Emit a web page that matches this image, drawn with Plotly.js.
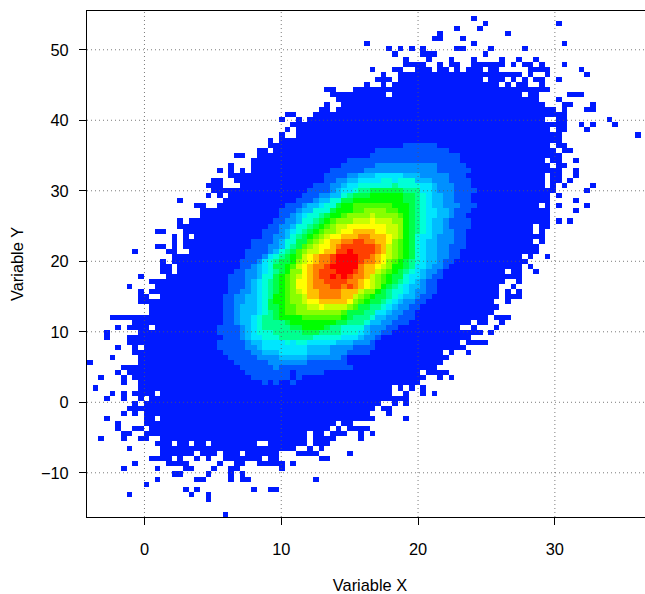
<!DOCTYPE html>
<html><head><meta charset="utf-8">
<script src="https://cdn.plot.ly/plotly-3.0.1.min.js"></script>
<style>html,body{margin:0;padding:0;background:#fff;overflow:hidden;width:645px;height:594px}</style>
</head><body><div id="chart" style="width:653px;height:594px"></div>
<script>
const xTitle = "Variable X", yTitle = "Variable Y";
const xTicks = [0,10,20,30];
const yTicks = [-10,0,10,20,30,40,50];
const xStart = -4.2, binW = 0.413, yTop = 55.5, binH = 0.7177, nCols = 100;
const palette = ["#001aff","#0058ff","#0090ff","#00bcff","#00e6ff","#00ffd8","#00ff90","#00ff48","#00ff00","#48ff00","#88ff00","#c8ff00","#ffff00","#ffc000","#ff8000","#ff4000","#ff0000"];

// Occupied cells per image row (top to bottom): column or column range
const occupied = ["","68","70 83","65 69","62 74","61-62 66","49 68 84","53 55 57 59 65-66 71 77","54 59-61 70","56 60 64 68 73 76 79",
"56-59 62 64-65 68-73 75 77-78 80 84","50 54-55 58-60 62-63 65 67-69 71-72 78-81 87","52 55-76 78 81 88","51-53 55-69 71-73 75 77 79-80 83","49 52 54-72 74 76-77 80","42-43 47-81","43-52 54-76 78-79 85-87","44-79 83","42 45-80 84-85 89","41-42 44-82 84 88-89",
"35-36 40-84","34 37 39-80 83-84 92","36-84 87 89 93","35 37-81 83-84 88","34 37-83 97","32 34-83","32-81 83-84","30-31 33-82 84-85","26-27 30-83","29-80 82-83 86",
"25 29-81 83-84","23 25 27 29-83 86","25-80 82-83 86","22-23 26-80 82-83 85","21-23 27-80 82 84 89","22-82 88","21 23 25-81 83","16 24-81 86","19-20 23-79 81 83 88","20-81 86",
"20-81","16 18-81 83 85","16-78 80-81","12-13 17-78 80","15 17 19-80","15 17-78 80","12-13 15 17-79","8 14-15 18-79","15-76 78 81","13 15-77",
"13-14 16-76 78","13-14 16-73 75-76 79","9 14-76","11-73 76","7 12-72 75","9 11-72 74 76","9-10 13-72 74-76","9-71 74","11-72","11-71",
"4-70 72-74","8-67 69-70 73","5 7-10 12-65 68 72","3 9-69 71","3 7-67","7-65 67-70","5 8 10-66","8-62 64 67","4 9-63","0 9-62",
"6-61","5 7-58 60-63","2 6 8-59 62 64","6 9-58","1 9-53 55 57 59","4 6 8-11 13-53 56 59 61","3 6 9 11-56","8 10-51 54 56","7-50 52-53","6 8 10-49 53",
"3 10-11 13-50 56","5 10-43 45-46","5 8-9 11-42 44 46-49","6-7 10-38 40-41 43-45 48 50","2 6 9-10 13-38 40-43 48","12-14 16-17 19-20 22-29 32-38 40-42","7 13-36 39 41","13-18 20-22 24-26 28-33 37-40 46","11-14 16 19 21 24-30 32-33 41-42","8 14-17 23 26-27 30-34 36",
"6 12 17-18 22 25-26 34","15-16 21 25 27","12 19-20 25 27-28 40","10","17 19 29 32-33","7 18 21","21","","","24"];

// Density levels: "row:left-right" extents of each level
const level1 = "26:56-61 27:51-63 28:50-65 29:46-65 30:45-66 31:43-67 32:42-66 33:42-67 34:40-67 35:39-68 36:38-67 37:37-67 38:35-68 39:34-67 40:34-66 41:33-67 42:32-67 43:31-66 44:31-66 45:29-66 46:29-66 47:28-65 48:28-65 49:27-64 50:27-63 51:26-62 52:25-62 53:25-61 54:25-61 55:25-61 56:24-60 57:24-59 58:24-58 59:24-57 60:24-57 61:24-56 62:23-54 63:23-53 64:24-51 65:23-50 66:23-50 67:24-49 68:25-45 69:26-45 70:27-46 71:28-35 71:37-41 72:29-35 72:37-37 73:31-31 73:33-33 73:36-36";
const level2 = "30:51-61 31:49-61 32:46-63 33:44-63 34:43-64 35:43-64 36:41-64 37:40-64 38:38-65 39:37-64 40:36-64 41:35-63 42:34-63 43:34-64 44:33-64 45:33-64 46:32-63 47:32-63 48:31-63 49:30-62 50:29-62 51:28-61 52:28-60 53:28-59 54:28-59 55:27-59 56:26-58 57:26-57 58:26-56 59:26-55 60:26-54 61:26-53 62:27-52 63:27-51 64:27-50 65:28-49 66:28-46 67:29-45 68:30-44 69:32-38 70:33-33";
const level3 = "32:48-58 33:46-60 34:45-61 35:44-61 36:43-62 37:41-62 38:39-62 39:38-63 40:37-63 41:37-62 42:36-62 43:35-62 44:35-61 45:34-61 46:34-61 47:33-61 48:32-61 49:31-61 50:30-60 51:30-59 52:30-59 53:29-58 54:29-58 55:29-57 56:28-57 57:28-55 58:27-54 59:27-53 60:27-52 61:27-51 62:28-49 63:28-49 64:28-48 65:29-46 66:30-42 67:31-42 68:34-38";
const level4 = "32:51-55 33:48-57 34:46-60 35:45-60 36:45-60 37:43-60 38:41-60 39:40-61 40:38-61 41:38-60 42:37-60 43:36-60 44:36-60 45:35-59 46:35-59 47:34-59 48:32-59 49:31-59 50:31-59 51:31-58 52:31-58 53:30-57 54:30-56 55:30-56 56:30-55 57:30-54 58:30-53 59:30-52 60:29-50 61:29-49 62:29-48 63:29-48 64:29-47 65:31-43 66:31-38 67:34-38";
const level5 = "33:52-53 33:55-57 34:48-58 35:47-58 36:45-59 37:43-59 38:42-59 39:40-59 40:39-59 41:38-59 42:37-59 43:37-59 44:36-58 45:35-58 46:35-58 47:34-58 48:33-58 49:32-58 50:32-57 51:32-57 52:31-56 53:31-56 54:31-55 55:31-55 56:31-54 57:31-53 58:31-52 59:31-50 60:30-50 61:30-49 62:30-48 63:30-47 64:31-44 65:35-35 65:37-38";
const level6 = "34:54-54 35:48-58 36:46-58 37:45-58 38:44-58 39:43-58 40:41-58 41:40-58 42:39-58 43:38-58 44:37-57 45:37-57 46:36-57 47:35-57 48:34-57 49:33-57 50:33-57 51:33-56 52:33-55 53:32-55 54:32-54 55:32-53 56:32-53 57:32-52 58:32-51 59:32-50 60:31-49 61:31-48 62:31-44 63:33-44 64:34-39";
const level7 = "35:50-55 36:47-57 37:45-57 38:44-57 39:43-57 40:42-57 41:41-57 42:40-57 43:39-57 44:38-57 45:37-57 46:37-57 47:36-57 48:35-57 49:34-56 50:33-56 51:34-55 52:33-55 53:33-54 54:33-53 55:33-52 56:33-52 57:32-51 58:32-49 59:33-48 60:33-46 61:35-45 62:36-42 63:38-40";
const level8 = "36:50-55 37:47-55 38:45-56 39:44-56 40:43-56 41:42-56 42:41-56 43:40-56 44:39-56 45:39-56 46:38-56 47:37-56 48:36-56 49:36-55 50:35-55 51:35-54 52:34-53 53:34-53 54:34-52 55:34-51 56:33-50 57:33-49 58:34-47 59:34-45 60:34-45 61:36-43 62:38-41";
const level9 = "38:47-53 39:47-54 40:45-55 41:43-55 42:42-55 43:41-55 44:40-55 45:39-55 46:38-55 47:37-55 48:37-55 49:37-54 50:36-53 51:36-53 52:35-52 53:35-52 54:35-51 55:35-50 56:35-49 57:35-48 58:35-47 59:35-45 60:38-44";
const level10 = "39:49-52 40:46-54 41:44-55 42:43-55 43:42-55 44:41-55 45:40-54 46:39-54 47:38-54 48:38-54 49:37-53 50:37-53 51:36-52 52:36-51 53:36-51 54:36-51 55:36-50 56:36-48 57:36-47 58:37-46 59:37-44";
const level11 = "40:50-50 41:47-53 42:44-54 43:44-54 44:42-54 45:41-53 46:40-53 47:39-53 48:38-53 49:38-52 50:37-52 51:38-51 52:37-50 53:37-50 54:37-50 55:37-48 56:38-47 57:38-46 58:39-45";
const level12 = "41:50-50 42:46-52 43:45-52 44:43-53 45:42-53 46:41-52 47:41-52 48:39-52 49:39-52 50:38-51 51:38-50 52:38-49 53:37-49 54:37-49 55:38-47 56:39-46 57:39-46 58:41-41";
const level13 = "43:47-50 44:45-52 45:43-52 46:43-52 47:42-52 48:40-51 49:40-51 50:39-50 51:39-50 52:39-49 53:39-48 54:39-48 55:39-47 56:39-46 57:41-45";
const level14 = "44:48-49 45:45-50 46:44-51 47:44-51 48:41-50 49:41-50 50:40-48 51:40-48 52:40-48 53:40-47 54:40-47 55:41-44 56:41-44";
const level15 = "45:47-48 46:45-50 47:44-50 48:43-49 49:43-48 50:42-47 51:41-47 52:41-46 53:42-45 54:43-44 54:46-46";
const level16 = "47:46-46 48:44-47 49:44-47 50:43-47 51:44-46 52:43-43 52:45-45";
const levels = [level1,level2,level3,level4,level5,level6,level7,level8,level9,level10,level11,level12,level13,level14,level15,level16];

const z = occupied.map(s => {
  const row = new Array(nCols).fill(null);
  s.split(" ").filter(Boolean).forEach(t => {
    const [a,b] = t.split("-").map(Number);
    for (let c = a; c <= (b === undefined ? a : b) && c < nCols; c++) row[c] = 0;
  });
  return row;
});
levels.forEach((txt, i) => {
  txt.split(" ").forEach(t => {
    const [r, span] = t.split(":");
    const [a,b] = span.split("-").map(Number);
    for (let c = a; c <= b; c++) if (z[+r][c] !== null) z[+r][c] = i + 1;
  });
});
const xs = Array.from({length:nCols}, (_,i) => xStart + binW*(i+0.5));
const ys = occupied.map((_,i) => yTop - binH*(i+0.5));
const colorscale = palette.map((c,i) => [i/(palette.length-1), c]);
const gridStyle = {color:"rgba(90,90,90,0.8)", width:1, dash:"1px,3px"};
const shapes = [
  ...xTicks.map(v => ({type:"line", layer:"above", xref:"x", yref:"y domain", x0:v, x1:v, y0:0, y1:1, line:gridStyle})),
  ...yTicks.map(v => ({type:"line", layer:"above", xref:"x domain", yref:"y", x0:0, x1:1, y0:v, y1:v, line:gridStyle}))
];
const axisBase = {showgrid:false, zeroline:false, showline:true, linecolor:"#000", linewidth:1, ticks:"outside", ticklen:7, tickwidth:1, tickcolor:"#000",
  tickfont:{family:"Liberation Sans", size:16.4, color:"#000"}};
Plotly.newPlot("chart", [{type:"heatmap", x:xs, y:ys, z:z, zmin:0, zmax:16, colorscale:colorscale, showscale:false, hoverinfo:"skip", zsmooth:false}], {
  width:653, height:594, paper_bgcolor:"#fff", plot_bgcolor:"#fff",
  margin:{l:87, r:0, t:11, b:77, pad:0},
  showlegend:false, shapes:shapes,
  xaxis:{...axisBase, range:[xStart, xStart + 566/13.68], tickvals:xTicks, ticktext:xTicks.map(v=>String(v)), mirror:true, ticklabelstandoff:10,
    title:{text:xTitle, font:{family:"Liberation Sans", size:16.4, color:"#000"}, standoff:25}},
  yaxis:{...axisBase, range:[yTop-71.77, yTop], tickvals:yTicks, ticktext:yTicks.map(v=>v<0?"\u2212"+(-v):String(v)), ticklabelstandoff:7,
    title:{text:yTitle, font:{family:"Liberation Sans", size:16.4, color:"#000"}, standoff:13}}
}, {displayModeBar:false, staticPlot:true});
</script></body></html>
